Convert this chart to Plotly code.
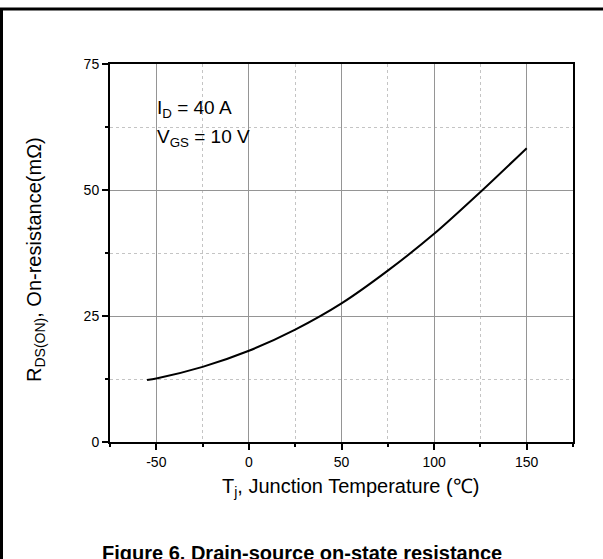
import plotly.graph_objects as go

# Data
temperature_c = [-55, -50, -25, 0, 25, 50, 75, 100, 125, 150]
rds_on_mohm = [12.3, 12.6, 14.9, 18.1, 22.3, 27.5, 34.0, 41.3, 49.6, 58.3]

x_ticks = [-50, 0, 50, 100, 150]
x_tick_labels = ["-50", "0", "50", "100", "150"]
y_ticks = [0, 25, 50, 75]
y_tick_labels = ["0", "25", "50", "75"]

W, H = 603, 559
L, R, T, B = 110, 30, 64, 117
PW, PH = W - L - R, H - T - B


def px_x(p):
    return (p - L) / PW


def px_y(p):
    return (H - B - p) / PH


fig = go.Figure()
fig.add_trace(go.Scatter(
    x=temperature_c, y=rds_on_mohm, mode="lines",
    line=dict(color="black", width=2, shape="spline", smoothing=0.8),
    showlegend=False, hoverinfo="skip",
))

font = "Arial, Liberation Sans, sans-serif"

axis_common = dict(
    showline=True, linecolor="black", linewidth=2, mirror=True,
    ticks="outside", ticklen=6, tickwidth=1.5, tickcolor="black",
    showgrid=True, gridcolor="#959595", gridwidth=1,
    zeroline=False,
    tickfont=dict(family=font, size=14, color="black"),
)

fig.update_xaxes(
    range=[-75, 175], tickvals=x_ticks, ticktext=x_tick_labels,
    minor=dict(dtick=25, tick0=-75, ticks="outside", ticklen=3, tickcolor="black",
               showgrid=True, gridcolor="#c4c4c4", griddash="dot", gridwidth=1),
    **axis_common,
)
fig.update_yaxes(
    range=[0, 75], tickvals=y_ticks, ticktext=y_tick_labels,
    minor=dict(dtick=12.5, tick0=0, ticks="outside", ticklen=3, tickcolor="black",
               showgrid=True, gridcolor="#c4c4c4", griddash="dot", gridwidth=1),
    **axis_common,
)

annotations = [
    dict(text="I<sub>D</sub> = 40 A", x=-50.5, y=63.2, xref="x", yref="y",
         xanchor="left", yanchor="bottom", showarrow=False,
         font=dict(family=font, size=19, color="black")),
    dict(text="V<sub>GS</sub> = 10 V", x=-50.5, y=57.5, xref="x", yref="y",
         xanchor="left", yanchor="bottom", showarrow=False,
         font=dict(family=font, size=19, color="black")),
    dict(text="T<sub>j</sub>, Junction Temperature (℃)", x=px_x(350), y=px_y(487),
         xref="paper", yref="paper", xanchor="center", yanchor="middle",
         showarrow=False, font=dict(family=font, size=20, color="black")),
    dict(text="R<sub>DS(ON)</sub>, On-resistance(mΩ)", x=px_x(35), y=px_y(260),
         xref="paper", yref="paper", xanchor="center", yanchor="middle",
         textangle=-90, showarrow=False, font=dict(family=font, size=20, color="black")),
    dict(text="<b>Figure 6. Drain-source on-state resistance</b>", x=px_x(302), y=px_y(553),
         xref="paper", yref="paper", xanchor="center", yanchor="middle",
         showarrow=False, font=dict(family=font, size=20, color="black")),
]

shapes = [
    dict(type="line", xref="paper", yref="paper", x0=px_x(0), x1=px_x(W), y0=px_y(9), y1=px_y(9),
         line=dict(color="black", width=3)),
    dict(type="line", xref="paper", yref="paper", x0=px_x(1.5), x1=px_x(1.5), y0=px_y(9), y1=px_y(H + 5),
         line=dict(color="black", width=3)),
]

fig.update_layout(
    width=W, height=H, autosize=False,
    margin=dict(l=L, r=R, t=T, b=B, pad=0),
    paper_bgcolor="white", plot_bgcolor="white",
    annotations=annotations, shapes=shapes,
    font=dict(family=font, color="black"),
)

fig.write_html(
    "out.html",
    config={"displayModeBar": False},
    post_script="document.body.style.margin='0';document.body.style.overflow='hidden';",
)
